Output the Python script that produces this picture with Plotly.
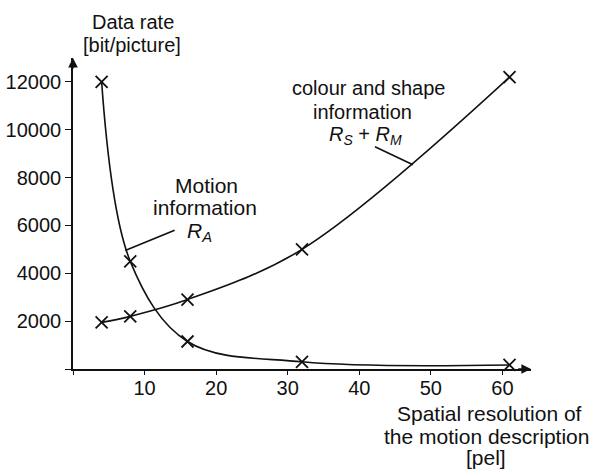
import plotly.graph_objects as go

# Data
res_motion = [4, 8, 16, 32, 61]
rate_motion = [12000, 4500, 1150, 300, 170]
res_shape = [4, 8, 16, 32, 61]
rate_shape = [1950, 2200, 2900, 5000, 12200]

x_tickvals = [0, 10, 20, 30, 40, 50, 60]
x_ticktext = ["", "10", "20", "30", "40", "50", "60"]
y_tickvals = [0, 2000, 4000, 6000, 8000, 10000, 12000]
y_ticktext = ["", "2000", "4000", "6000", "8000", "10000", "12000"]

# leader lines (label -> curve)
leader_motion_x = [7.3, 14.2]
leader_motion_y = [4950, 5800]
leader_shape_x = [42.2, 47.5]
leader_shape_y = [9290, 8540]

FONT = "Liberation Sans, Arial, Helvetica, sans-serif"
BLACK = "#111111"

fig = go.Figure()
for xs, ys in [(res_motion, rate_motion), (res_shape, rate_shape)]:
    fig.add_trace(go.Scatter(
        x=xs, y=ys, mode="lines+markers",
        line=dict(color=BLACK, width=1.6, shape="spline", smoothing=1.0),
        marker=dict(symbol="x-thin-open", size=12, color=BLACK,
                    line=dict(color=BLACK, width=1.8)),
        showlegend=False, cliponaxis=False,
    ))

for lx, ly in [(leader_motion_x, leader_motion_y), (leader_shape_x, leader_shape_y)]:
    fig.add_shape(type="line", xref="x", yref="y",
                  x0=lx[0], y0=ly[0], x1=lx[1], y1=ly[1],
                  line=dict(color=BLACK, width=1.6))

ann = []
def txt(text, x, y, xref="x", yref="y", size=20):
    ann.append(dict(text=text, x=x, y=y, xref=xref, yref=yref, showarrow=False,
                    xanchor="center", yanchor="middle",
                    font=dict(family=FONT, size=size, color=BLACK)))

txt("Motion", 18.6, 7690, size=21)
txt("information", 18.4, 6770, size=21)
txt("<i>R<sub>A</sub></i>", 17.7, 5730, size=21)
txt("colour and shape", 41.3, 11750)
txt("information", 40.4, 10740)
txt("<i>R<sub>S</sub></i> + <i>R<sub>M</sub></i>", 40.9, 9780)

txt("Data rate", 0.131, 1.116, "paper", "paper")
txt("[bit/picture]", 0.129, 1.042, "paper", "paper")
txt("Spatial resolution of", 0.910, -0.1415, "paper", "paper", size=21)
txt("the motion description", 0.902, -0.2186, "paper", "paper", size=21)
txt("[pel]", 0.902, -0.286, "paper", "paper", size=21)

# axis arrowheads
ann.append(dict(x=64, y=0, ax=62, ay=0, xref="x", yref="y", axref="x", ayref="y",
                showarrow=True, arrowhead=2, arrowsize=1.2, arrowwidth=1.6,
                arrowcolor=BLACK, text=""))
ann.append(dict(x=0, y=13000, ax=0, ay=12500, xref="x", yref="y", axref="x", ayref="y",
                showarrow=True, arrowhead=2, arrowsize=1.2, arrowwidth=1.6,
                arrowcolor=BLACK, text=""))

fig.update_layout(
    width=595, height=472,
    margin=dict(l=73, r=64, t=58, b=103, autoexpand=False),
    paper_bgcolor="white", plot_bgcolor="white",
    annotations=ann,
    font=dict(family=FONT, size=20, color=BLACK),
    xaxis=dict(range=[0, 64], showgrid=False, zeroline=False, automargin=False,
               showline=True, linecolor=BLACK, linewidth=1.6,
               ticks="outside", ticklen=4, tickwidth=1.4, tickcolor=BLACK,
               ticklabelstandoff=-4,
               tickvals=x_tickvals, ticktext=x_ticktext,
               tickfont=dict(family=FONT, size=20, color=BLACK)),
    yaxis=dict(range=[0, 13000], showgrid=False, zeroline=False, automargin=False,
               showline=True, linecolor=BLACK, linewidth=1.6,
               ticks="outside", ticklen=6, tickwidth=1.4, tickcolor=BLACK,
               tickvals=y_tickvals, ticktext=y_ticktext,
               tickfont=dict(family=FONT, size=20, color=BLACK)),
)

fig.write_html("out.html", config={"displayModeBar": False},
               post_script="document.body.style.margin='0';document.body.style.padding='0';")
